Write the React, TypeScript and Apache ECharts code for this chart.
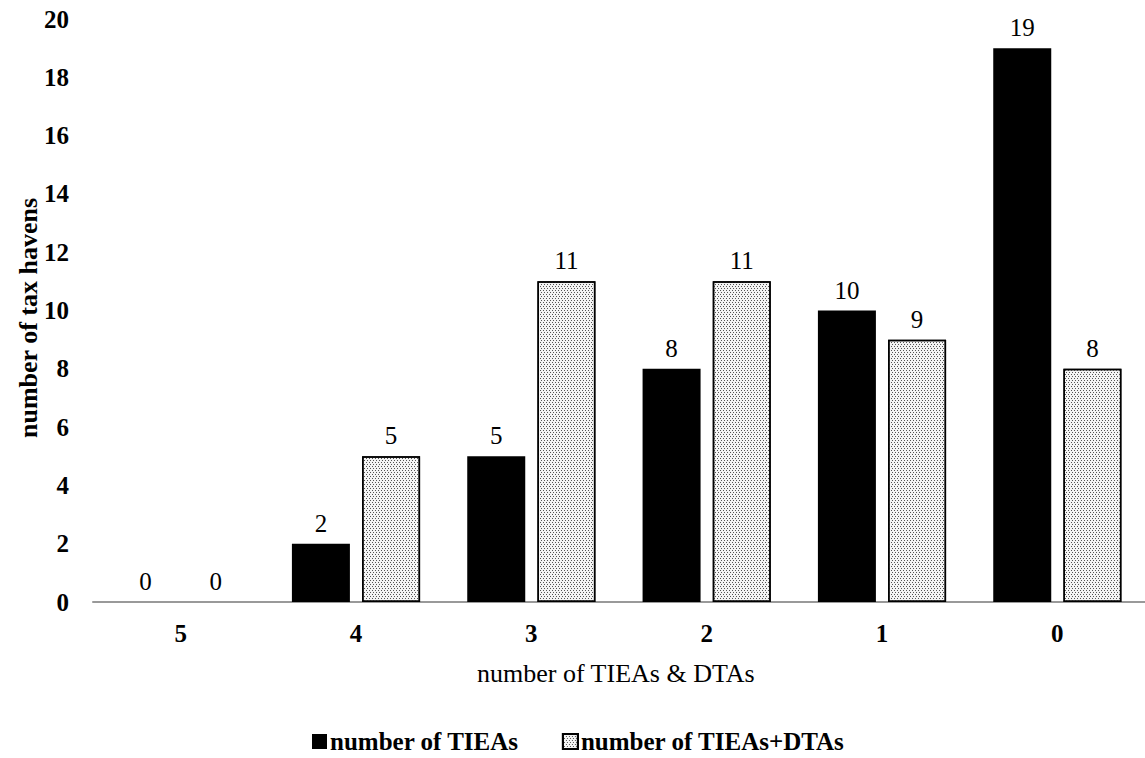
import React, { useEffect, useRef } from "react";
import * as echarts from "echarts";

const categories = ["5", "4", "3", "2", "1", "0"];
const tieas = [0, 2, 5, 8, 10, 19];
const tieasDtas = [0, 5, 11, 11, 9, 8];
const seriesNames = ["number of TIEAs", "number of TIEAs+DTAs"];
const yAxisName = "number of tax havens";
const xAxisName = "number of TIEAs & DTAs";

const FONT = "'Liberation Serif', 'Times New Roman', serif";

const dotDecal = {
  symbol: "rect",
  symbolSize: 1,
  color: "#555",
  backgroundColor: "#f4f4f4",
  dashArrayX: [[1, 2], [0, 1, 1, 1]],
  dashArrayY: [1, 1],
  rotation: 0,
  symbolKeepAspect: false,
};

export default function App() {
  const ref = useRef<HTMLDivElement>(null);
  useEffect(() => {
    if (!ref.current) return;
    const chart = echarts.init(ref.current, undefined, { renderer: "svg" });
    const labelStyle = { show: true, position: "top", distance: 8, fontFamily: FONT, fontSize: 25, color: "#000" };
    chart.setOption({
      animation: false,
      backgroundColor: "#fff",
      textStyle: { fontFamily: FONT },
      grid: { left: 93, right: 0, top: 19, bottom: 156 },
      legend: {
        top: 729,
        left: 312,
        padding: 0,
        itemWidth: 15,
        itemHeight: 15,
        itemGap: 43,
        icon: "rect",
        textStyle: {
          fontFamily: FONT,
          fontSize: 25,
          lineHeight: 25,
          fontWeight: "bold",
          color: "#000",
          padding: [0, 0, 0, -2],
        },
        data: seriesNames,
      },
      xAxis: {
        type: "category",
        data: categories,
        axisTick: { show: false },
        axisLine: { lineStyle: { color: "#999", width: 2 } },
        axisLabel: { fontFamily: FONT, fontSize: 25, fontWeight: "bold", color: "#000", margin: 19 },
      },
      yAxis: {
        type: "value",
        min: 0,
        max: 20,
        interval: 2,
        splitLine: { show: false },
        axisLine: { show: false },
        axisTick: { show: false },
        axisLabel: { fontFamily: FONT, fontSize: 25, fontWeight: "bold", color: "#000", margin: 24 },
      },
      graphic: [
        {
          type: "text",
          x: 28,
          y: 318,
          rotation: Math.PI / 2,
          style: {
            text: yAxisName,
            font: `bold 26px ${FONT}`,
            fill: "#000",
            align: "center",
            verticalAlign: "middle",
          },
        },
        {
          type: "text",
          left: 477,
          top: 660,
          style: { text: xAxisName, font: `26px ${FONT}`, fill: "#000" },
        },
      ],
      series: [
        {
          name: seriesNames[0],
          type: "bar",
          data: tieas,
          barWidth: 58,
          barGap: "21%",
          itemStyle: { color: "#000" },
          label: labelStyle,
        },
        {
          name: seriesNames[1],
          type: "bar",
          data: tieasDtas.map((v) => (v === 0 ? { value: v, itemStyle: { borderWidth: 0 } } : v)),
          barWidth: 58,
          itemStyle: { color: "#f4f4f4", borderColor: "#000", borderWidth: 1.5, decal: dotDecal },
          label: labelStyle,
        },
      ],
    });
    return () => chart.dispose();
  }, []);
  return <div ref={ref} style={{ width: 1145, height: 758, position: "absolute", left: 0, top: 0 }} />;
}
